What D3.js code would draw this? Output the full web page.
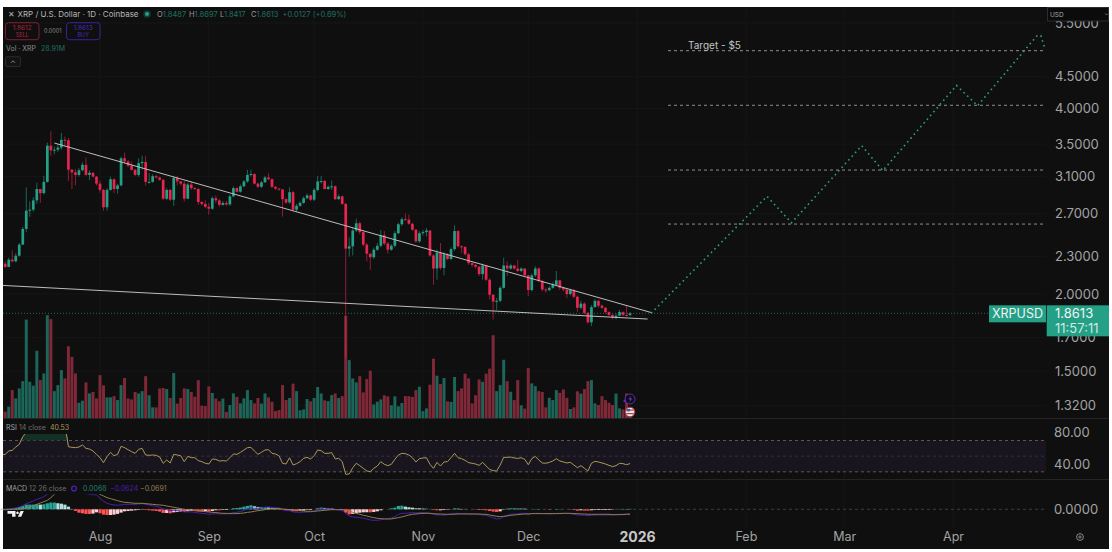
<!DOCTYPE html>
<html>
<head>
<meta charset="utf-8">
<title>XRP / U.S. Dollar</title>
<script src="https://cdn.jsdelivr.net/npm/d3@7"></script>
<style>
  html, body { margin: 0; padding: 0; background: #fff; }
  svg { display: block; }
  text { font-family: Inter, "Noto Sans", sans-serif; }
</style>
</head>
<body>
<svg id="chart" width="1112" height="552"></svg>
<script>
// Daily session data, first bar 4 Jul 2025
const firstSession = "2025-07-04";
const firstOpen = 2.25;
const closes = [
  2.240,2.213,2.274,2.260,2.308,2.405,2.550,2.730,2.740,2.837,
  2.960,2.915,3.040,3.480,3.420,3.427,3.455,3.557,3.550,3.181,
  3.150,3.120,3.175,3.240,3.120,3.145,3.100,3.020,2.950,2.765,
  2.950,3.070,2.960,3.000,3.320,3.280,3.230,3.180,3.120,3.260,
  3.275,3.040,3.040,3.105,3.090,3.064,2.855,2.950,2.844,3.085,
  3.045,3.020,2.855,3.010,2.970,2.960,2.820,2.800,2.770,2.750,
  2.860,2.837,2.790,2.810,2.795,2.880,2.970,2.930,2.990,3.045,
  3.120,3.130,3.020,2.985,3.035,3.090,3.070,2.985,2.965,2.955,
  2.850,2.815,2.925,2.740,2.780,2.810,2.860,2.890,2.844,2.950,
  3.045,3.050,2.960,2.985,2.990,2.850,2.880,2.800,2.370,2.390,
  2.535,2.605,2.520,2.405,2.325,2.295,2.360,2.395,2.490,2.415,
  2.360,2.395,2.510,2.595,2.645,2.640,2.600,2.543,2.435,2.510,
  2.520,2.535,2.310,2.200,2.335,2.205,2.320,2.280,2.365,2.530,
  2.390,2.385,2.320,2.245,2.230,2.215,2.155,2.225,2.110,1.995,
  1.945,1.950,2.047,2.225,2.200,2.225,2.200,2.180,2.200,2.145,
  2.030,2.145,2.200,2.100,2.034,2.030,2.047,2.070,2.105,2.047,
  2.034,2.000,2.030,1.980,1.900,1.930,1.865,1.800,1.905,1.950,
  1.915,1.900,1.870,1.850,1.830,1.845,1.870,1.850,1.8487,1.8613
];
const highs = [
  2.26,2.26,2.29,2.354,2.33,2.42,2.57,2.977,2.826,2.87,
  3.03,2.96,3.11,3.52,3.67,3.47,3.50,3.65,3.60,3.58,
  3.19,3.19,3.20,3.27,3.33,3.175,3.15,3.11,3.055,2.96,
  2.97,3.10,3.08,3.02,3.34,3.39,3.30,3.28,3.19,3.32,
  3.35,3.35,3.14,3.13,3.12,3.10,3.07,2.97,2.96,3.11,
  3.11,3.05,3.05,3.03,3.05,2.98,2.97,2.83,2.84,2.81,
  2.88,2.89,2.85,2.83,2.83,2.90,2.99,2.98,3.01,3.06,
  3.18,3.18,3.14,3.03,3.05,3.11,3.14,3.08,2.99,2.97,
  2.96,2.86,2.98,2.94,2.80,2.83,2.88,2.91,2.90,2.97,
  3.11,3.11,3.06,3.00,3.055,3.00,2.90,2.89,2.81,2.47,
  2.56,2.65,2.62,2.53,2.42,2.33,2.38,2.42,2.54,2.53,
  2.43,2.41,2.53,2.61,2.665,2.70,2.69,2.61,2.55,2.53,
  2.54,2.56,2.54,2.32,2.36,2.42,2.34,2.33,2.38,2.585,
  2.54,2.40,2.39,2.33,2.25,2.24,2.22,2.24,2.23,2.12,
  2.00,1.97,2.06,2.29,2.26,2.24,2.23,2.274,2.21,2.205,
  2.15,2.16,2.22,2.21,2.11,2.05,2.06,2.09,2.18,2.11,
  2.05,2.04,2.04,2.04,1.99,1.95,1.94,1.87,1.92,1.965,
  1.96,1.925,1.905,1.875,1.855,1.86,1.885,1.875,1.92,1.8697
];
const lows = [
  2.23,2.205,2.21,2.25,2.25,2.30,2.40,2.52,2.668,2.72,
  2.80,2.81,2.90,3.03,3.35,3.37,3.40,3.43,3.47,3.05,
  2.96,3.00,3.10,3.16,3.11,3.06,3.09,3.00,2.92,2.73,
  2.73,2.94,2.915,2.91,2.99,3.26,3.21,3.17,3.11,3.10,
  3.18,3.00,3.02,3.03,3.08,3.05,2.84,2.84,2.83,2.78,
  3.00,3.00,2.825,2.85,2.95,2.95,2.79,2.78,2.755,2.69,
  2.74,2.81,2.77,2.78,2.78,2.78,2.87,2.92,2.92,2.98,
  3.03,3.10,3.01,2.97,2.97,3.03,3.06,2.97,2.95,2.94,
  2.67,2.80,2.80,2.725,2.72,2.77,2.80,2.85,2.83,2.83,
  2.935,3.02,2.955,2.95,2.95,2.84,2.84,2.79,1.58,2.30,
  2.31,2.52,2.50,2.39,2.26,2.19,2.28,2.35,2.38,2.40,
  2.325,2.35,2.38,2.50,2.58,2.63,2.59,2.53,2.42,2.42,
  2.49,2.48,2.30,2.07,2.11,2.19,2.145,2.27,2.27,2.35,
  2.38,2.33,2.31,2.23,2.21,2.20,2.14,2.11,2.10,1.96,
  1.82,1.885,1.94,2.04,2.14,2.19,2.19,2.17,2.17,2.13,
  1.985,2.02,2.13,2.09,2.02,2.01,2.02,2.04,2.06,2.03,
  2.02,1.97,1.99,1.97,1.87,1.89,1.855,1.79,1.775,1.90,
  1.90,1.89,1.86,1.84,1.82,1.82,1.84,1.84,1.84,1.8417
];
// Volume in millions of XRP
const volumes = [
  59,35,59,139,99,147,182,478,179,160,
  328,187,219,499,480,134,163,235,195,350,
  299,219,78,88,176,123,130,99,211,162,
  104,104,110,91,163,197,99,94,130,123,
  134,206,114,56,56,147,149,144,101,221,
  74,101,147,144,130,107,187,64,62,157,
  125,98,85,98,34,67,123,106,75,99,
  139,91,75,101,74,123,104,83,38,43,
  163,91,101,170,134,42,46,96,85,101,
  154,123,90,86,115,123,101,110,496,283,
  195,176,206,128,192,232,70,83,94,114,
  109,66,109,61,77,110,110,106,139,155,
  38,51,165,290,208,168,197,85,82,202,
  134,147,218,195,75,114,190,179,218,242,
  403,134,163,285,182,131,91,187,66,50,
  245,171,158,134,130,56,102,91,139,126,
  142,102,48,56,133,122,144,182,187,75,
  67,110,91,78,67,122,51,46,123,28.91
];
const rsiValues = [
  52.3,52.3,56.6,57.4,61.7,65.1,74.9,81,82,84,
  86,84,87,93,90,90,90,92,91,62.1,
  61.3,60.9,61.7,64.3,60,59.1,56.6,52.3,48.1,41.7,
  49.4,54.9,50.6,52.3,62.6,60.9,58.3,55.7,53.6,58.7,
  60,51.5,51.1,51.5,51.1,48.9,40.9,45.1,41.3,52.3,
  51.5,50.6,43,49.8,48.1,48.1,44.3,43,40.9,40,
  46.4,46,43.8,44.3,43.8,48,52.8,52.3,54.9,57.9,
  60.9,61.3,56.6,52.3,54.9,57.9,58.3,53.6,52.8,50.6,
  40.9,40,48,38.7,40.4,43,47.2,48.5,46.4,50.6,
  57.9,57,53.6,53.6,54.5,46.4,47.2,43,26.8,27.2,
  35.3,40.9,37.9,34.5,31.1,30.2,34.5,37.4,43,39.6,
  37.9,39.6,46,51.5,53.6,53.2,51.5,48,42.6,46.8,
  47.7,48,39.6,34.5,42.1,37.4,42.6,43,48,53.6,
  48,46.8,44.7,41.7,40.9,40,38.3,42.1,37.4,33.2,
  31.5,31.1,38.7,48.5,48.5,48.9,47.7,47.2,48,46,
  39.1,46.8,49.8,45.1,41.3,40.9,42.1,43.8,46.8,43.8,
  42.6,41.3,42.1,38.7,35.3,37.9,34.5,31.1,40.9,43.4,
  42.6,41.3,40,38.3,36.6,37.9,40.9,40.4,39.1,40.53
];
const macdValues = [
  0,0,.005,.009,.019,.032,.051,.079,.097,.116,
  .139,.153,.176,.208,.255,.301,.329,.347,.347,.329,
  .301,.273,.245,.231,.218,.208,.204,.199,.153,.111,
  .083,.069,.060,.056,.060,.069,.069,.069,.069,.074,
  .079,.069,.060,.051,.042,.028,.005,-.005,-.019,-.014,
  -.019,-.023,-.037,-.037,-.037,-.042,-.051,-.056,-.060,-.069,
  -.065,-.060,-.065,-.065,-.065,-.056,-.046,-.042,-.032,-.014,
  .005,.019,.014,.014,.019,.028,.032,.028,.023,.019,
  -.005,-.019,-.019,-.037,-.042,-.042,-.042,-.037,-.037,-.028,
  -.009,.005,.005,.009,.009,-.005,-.009,-.019,-.056,-.093,
  -.106,-.111,-.116,-.125,-.134,-.148,-.153,-.153,-.144,-.134,
  -.134,-.120,-.102,-.069,-.056,-.056,-.051,-.046,-.051,-.046,
  -.046,-.046,-.056,-.069,-.079,-.079,-.079,-.074,-.065,-.056,
  -.056,-.060,-.060,-.065,-.065,-.069,-.074,-.079,-.083,-.102,
  -.120,-.134,-.130,-.102,-.083,-.069,-.065,-.065,-.056,-.056,
  -.065,-.060,-.056,-.056,-.060,-.060,-.065,-.060,-.056,-.056,
  -.056,-.056,-.060,-.069,-.079,-.079,-.083,-.088,-.083,-.079,
  -.079,-.079,-.079,-.079,-.079,-.074,-.069,-.069,-.065,-.0624
];
const signalValues = [
  -.005,-.005,-.005,0,0,0,.005,.014,.032,.051,
  .069,.088,.106,.125,.162,.208,.245,.269,.282,.292,
  .296,.296,.292,.287,.282,.273,.264,.241,.208,.185,
  .162,.148,.134,.120,.106,.097,.093,.088,.083,.083,
  .083,.079,.074,.069,.065,.060,.056,.046,.037,.028,
  .019,.009,0,-.009,-.014,-.019,-.023,-.028,-.032,-.037,
  -.042,-.046,-.051,-.056,-.056,-.060,-.060,-.060,-.056,-.051,
  -.042,-.037,-.028,-.019,-.014,-.005,.005,.009,.009,.009,
  .005,0,-.005,-.009,-.014,-.019,-.023,-.028,-.028,-.028,
  -.023,-.019,-.014,-.009,-.005,-.005,-.005,-.005,-.009,-.023,
  -.042,-.056,-.069,-.083,-.093,-.106,-.116,-.125,-.130,-.134,
  -.134,-.134,-.125,-.116,-.106,-.093,-.079,-.069,-.065,-.060,
  -.056,-.056,-.056,-.060,-.065,-.065,-.069,-.069,-.069,-.069,
  -.065,-.065,-.065,-.065,-.065,-.065,-.065,-.069,-.069,-.079,
  -.088,-.097,-.102,-.097,-.093,-.083,-.079,-.074,-.069,-.065,
  -.065,-.060,-.060,-.060,-.060,-.060,-.060,-.060,-.060,-.060,
  -.056,-.056,-.056,-.060,-.060,-.065,-.065,-.069,-.069,-.069,
  -.069,-.069,-.069,-.069,-.074,-.074,-.074,-.074,-.069,-.0691
];

// Axis ticks
const priceTicks = [5.5, 4.5, 4.0, 3.5, 3.1, 2.7, 2.3, 2.0, 1.7, 1.5, 1.32];
const rsiTicks = [80, 40];
const rsiBandLevels = [70, 50, 30];
const macdTicks = [0];
const monthTicks = ["2025-08-01","2025-09-01","2025-10-01","2025-11-01","2025-12-01","2026-01-01","2026-02-01","2026-03-01","2026-04-01"];

// Hand-drawn annotations
const wedgeUpper = [["2025-07-19", 3.514], ["2026-01-05", 1.867]];
const wedgeLower = [["2025-07-04", 2.066], ["2026-01-04", 1.822]];
const targetLevels = [4.96, 4.046, 3.177, 2.597];
const projectedDates = ["2026-01-05","2026-02-07","2026-02-14","2026-03-06","2026-03-12","2026-04-02","2026-04-08","2026-04-25","2026-04-26","2026-04-27"];
const projectedPrices = [1.8613, 2.88, 2.61, 3.48, 3.17, 4.356, 4.04, 5.25, 5.25, 5.04];

// Palette
const UP = "#23a086", DOWN = "#e7254f";
const VOL_UP = "#1c6558", VOL_DOWN = "#7f2838";
const BG = "#0f0f10", GRID = "#161617", SEP = "#242425", AXIS_TEXT = "#a3a3a3";

const parse = d3.utcParse("%Y-%m-%d");
const start = parse(firstSession);
const bars = closes.map((close, i) => {
  const open = i === 0 ? firstOpen : closes[i - 1];
  return {
    date: d3.utcDay.offset(start, i), open, close,
    high: highs[i], low: lows[i], volume: volumes[i],
    rsi: rsiValues[i], macd: macdValues[i], signal: signalValues[i],
    hist: macdValues[i] - signalValues[i], up: close >= open
  };
});

// Scales
const x = d3.scaleUtc().domain([parse("2025-08-01"), parse("2026-04-01")]).range([100, 953]);
const yPrice = d3.scaleLog().domain([5.5, 1.32]).range([23, 405.4]);
const yVol = d3.scaleLinear().domain([0, 500]).range([419, 315]);
const yRsi = d3.scaleLinear().domain([80, 40]).range([432.7, 464]);
const yMacd = d3.scaleLinear().domain([0, 0.1]).range([509.3, 502.1]);

const LEFT = 3, PANE_RIGHT = 1046, RIGHT = 1109, TOP = 7, BOTTOM = 549;
const svg = d3.select("#chart");
svg.append("rect").attr("x", LEFT).attr("y", TOP).attr("width", RIGHT - LEFT).attr("height", BOTTOM - TOP).attr("fill", BG);

const defs = svg.append("defs");
const clip = (id, y0, y1) => defs.append("clipPath").attr("id", id).append("rect")
  .attr("x", LEFT).attr("y", y0).attr("width", PANE_RIGHT - LEFT).attr("height", y1 - y0);
clip("clip-main", TOP, 418);
clip("clip-rsi", 434, 479);
clip("clip-macd", 494.3, 528);

// Grid
const grid = svg.append("g");
grid.selectAll(".v").data(monthTicks).join("line")
  .attr("x1", d => x(parse(d))).attr("x2", d => x(parse(d)))
  .attr("y1", TOP).attr("y2", 528).attr("stroke", GRID);
grid.selectAll(".h").data(priceTicks).join("line")
  .attr("x1", LEFT).attr("x2", PANE_RIGHT)
  .attr("y1", d => yPrice(d)).attr("y2", d => yPrice(d)).attr("stroke", GRID);

// Pane separators
svg.selectAll(".sep").data([418.5, 479.5]).join("line")
  .attr("x1", LEFT).attr("x2", RIGHT).attr("y1", d => d).attr("y2", d => d).attr("stroke", SEP);

// Volume
const main = svg.append("g").attr("clip-path", "url(#clip-main)");
main.append("g").selectAll("rect").data(bars).join("rect")
  .attr("x", d => x(d.date) - 1.5).attr("width", 3)
  .attr("y", d => yVol(d.volume)).attr("height", d => yVol(0) - yVol(d.volume))
  .attr("fill", d => d.up ? VOL_UP : VOL_DOWN);

// Current price line
main.append("line")
  .attr("x1", LEFT).attr("x2", PANE_RIGHT)
  .attr("y1", yPrice(closes[closes.length - 1])).attr("y2", yPrice(closes[closes.length - 1]))
  .attr("stroke", "#1f6b5d").attr("stroke-dasharray", "1 2");

// Candles
main.append("g").selectAll("line").data(bars).join("line")
  .attr("x1", d => x(d.date)).attr("x2", d => x(d.date))
  .attr("y1", d => yPrice(d.high)).attr("y2", d => yPrice(d.low))
  .attr("stroke", d => d.up ? UP : DOWN).attr("stroke-opacity", 0.6);
main.append("g").selectAll("rect").data(bars).join("rect")
  .attr("x", d => x(d.date) - 1.35).attr("width", 2.7)
  .attr("y", d => yPrice(Math.max(d.open, d.close)))
  .attr("height", d => Math.max(1, Math.abs(yPrice(d.open) - yPrice(d.close))))
  .attr("fill", d => d.up ? UP : DOWN);

// Wedge trend lines
const trend = d3.line().x(d => x(parse(d[0]))).y(d => yPrice(d[1]));
main.selectAll(".wedge").data([wedgeUpper, wedgeLower]).join("path")
  .attr("d", trend).attr("fill", "none").attr("stroke", "#bdbdbd").attr("stroke-width", 1);

// Target levels
main.selectAll(".level").data(targetLevels).join("line")
  .attr("x1", 668).attr("x2", 1044)
  .attr("y1", d => yPrice(d)).attr("y2", d => yPrice(d))
  .attr("stroke", "#8f8f8f").attr("stroke-dasharray", "3 3");
main.append("text").attr("x", 688).attr("y", yPrice(targetLevels[0]) - 1.5)
  .attr("font-size", 10).attr("fill", "#c4c4c4").text("Target - $5");

// Projected path
const projected = projectedDates.map((d, i) => ({ date: parse(d), price: projectedPrices[i] }));
main.append("path").datum(projected)
  .attr("d", d3.line().x(d => x(d.date)).y(d => yPrice(d.price)))
  .attr("fill", "none").attr("stroke", "#2f9c7e").attr("stroke-width", 1.6)
  .attr("stroke-dasharray", "1.6 3.4");

// RSI pane
const rsiPane = svg.append("g");
rsiPane.append("rect").attr("x", LEFT).attr("width", PANE_RIGHT - LEFT)
  .attr("y", yRsi(70)).attr("height", yRsi(30) - yRsi(70)).attr("fill", "#19151f");
rsiPane.selectAll(".band").data(rsiBandLevels).join("line")
  .attr("x1", LEFT).attr("x2", PANE_RIGHT).attr("y1", d => yRsi(d)).attr("y2", d => yRsi(d))
  .attr("stroke", d => d === 50 ? "#35323b" : "#5a5a5c").attr("stroke-dasharray", "3 3");
const rsiClipped = rsiPane.append("g").attr("clip-path", "url(#clip-rsi)");
rsiClipped.append("path").datum(bars)
  .attr("d", d3.area().x(d => x(d.date)).y0(yRsi(70)).y1(d => yRsi(Math.max(d.rsi, 70))))
  .attr("fill", "#133024");
rsiClipped.append("path").datum(bars)
  .attr("d", d3.line().x(d => x(d.date)).y(d => yRsi(d.rsi)))
  .attr("fill", "none").attr("stroke", "#a89a55").attr("stroke-width", 1);

// MACD pane
const macdPane = svg.append("g");
macdPane.selectAll(".zero").data(macdTicks).join("line")
  .attr("x1", LEFT).attr("x2", PANE_RIGHT).attr("y1", d => yMacd(d)).attr("y2", d => yMacd(d))
  .attr("stroke", "#3c3c3e").attr("stroke-dasharray", "3 3");
const histColor = (d, i) => {
  const prev = i ? bars[i - 1].hist : 0;
  if (d.hist >= 0) return d.hist >= prev ? "#26a69a" : "#b2dfdb";
  return d.hist < prev ? "#ff5252" : "#ffcdd2";
};
macdPane.append("g").selectAll("rect").data(bars).join("rect")
  .attr("x", d => x(d.date) - 1.6).attr("width", 3.2)
  .attr("y", d => Math.min(yMacd(d.hist), yMacd(0)))
  .attr("height", d => Math.abs(yMacd(d.hist) - yMacd(0)))
  .attr("fill", histColor);
const macdClipped = macdPane.append("g").attr("clip-path", "url(#clip-macd)");
macdClipped.append("path").datum(bars)
  .attr("d", d3.line().x(d => x(d.date)).y(d => yMacd(d.macd)))
  .attr("fill", "none").attr("stroke", "#4a1fb0").attr("stroke-width", 1);
macdClipped.append("path").datum(bars)
  .attr("d", d3.line().x(d => x(d.date)).y(d => yMacd(d.signal)))
  .attr("fill", "none").attr("stroke", "#8f7f4e").attr("stroke-width", 1);

// Axes
function styleAxis(g, size) {
  g.attr("font-family", "Inter, sans-serif").attr("font-size", size);
  g.select(".domain").remove();
  g.selectAll("text").attr("fill", AXIS_TEXT);
}
svg.append("g").attr("transform", `translate(${PANE_RIGHT},0)`)
  .call(d3.axisRight(yPrice).tickValues(priceTicks).tickFormat(d3.format(".4f")).tickSize(0).tickPadding(9))
  .call(styleAxis, 13);
svg.append("g").attr("transform", `translate(${PANE_RIGHT},0)`)
  .call(d3.axisRight(yRsi).tickValues(rsiTicks).tickFormat(d3.format(".2f")).tickSize(0).tickPadding(8))
  .call(styleAxis, 13);
svg.append("g").attr("transform", `translate(${PANE_RIGHT},0)`)
  .call(d3.axisRight(yMacd).tickValues(macdTicks).tickFormat(d3.format(".4f")).tickSize(0).tickPadding(8))
  .call(styleAxis, 13);
const timeFormat = d => d.getUTCMonth() === 0 ? String(d.getUTCFullYear()) : d3.utcFormat("%b")(d);
svg.append("g").attr("transform", "translate(0,524)")
  .call(d3.axisBottom(x).tickValues(monthTicks.map(parse)).tickFormat(timeFormat).tickSize(0).tickPadding(8))
  .call(styleAxis, 12.5)
  .call(g => g.selectAll(".tick").filter(d => d.getUTCMonth() === 0).select("text")
    .attr("font-weight", 700).attr("font-size", 14).attr("fill", "#c8c8c8"));

// Settings glyph under the price axis
const gear = svg.append("g").attr("transform", "translate(1080,537)").attr("fill", "none").attr("stroke", "#8a8a8a");
gear.append("circle").attr("r", 3.4);
gear.append("circle").attr("r", 1.1);

// Currency selector
svg.append("rect").attr("x", 1047.5).attr("y", 7.5).attr("width", 61).attr("height", 13.5)
  .attr("fill", "#0b0b0c").attr("stroke", "#2c2c2e");
svg.append("text").attr("x", 1050).attr("y", 17).attr("font-size", 6.5).attr("fill", "#a8a8a8").text("USD");
svg.append("path").attr("d", "M1105 13.5l1.5 1.5l1.5-1.5").attr("fill", "none").attr("stroke", "#8a8a8a").attr("stroke-width", 0.7);

// Symbol and last-price tags
const last = closes[closes.length - 1];
const tagY = yPrice(last);
svg.append("rect").attr("x", 989).attr("y", tagY - 8).attr("width", 57).attr("height", 17).attr("fill", UP);
svg.append("text").attr("x", 1017.5).attr("y", tagY + 4.6).attr("text-anchor", "middle")
  .attr("font-size", 12.5).attr("fill", "#f2f2f2").text("XRPUSD");
svg.append("rect").attr("x", 1046.7).attr("y", tagY - 8).attr("width", RIGHT - 1046.7).attr("height", 31).attr("fill", UP);
svg.append("text").attr("x", 1055).attr("y", tagY + 4.8).attr("font-size", 13).attr("fill", "#f2f2f2").text(last.toFixed(4));
svg.append("text").attr("x", 1055).attr("y", tagY + 20).attr("font-size", 13).attr("fill", "#cfe9e2").text("11:57:11");

// Header line
const header = svg.append("g").attr("font-size", 8);
header.append("text").attr("x", 7.5).attr("y", 17).attr("font-size", 8).attr("fill", "#b5b5b5").text("✕");
header.append("text").attr("x", 17.5).attr("y", 17).attr("fill", "#b5b5b5").text("XRP / U.S. Dollar · 1D · Coinbase");
header.append("circle").attr("cx", 147).attr("cy", 14).attr("r", 3.8).attr("fill", "#123a31");
header.append("circle").attr("cx", 147).attr("cy", 14).attr("r", 2).attr("fill", UP);
const lastBar = bars[bars.length - 1];
const quotes = [
  ["O", lastBar.open, 157], ["H", lastBar.high, 189], ["L", lastBar.low, 220], ["C", lastBar.close, 251]
];
quotes.forEach(([k, v, px]) => {
  const t = header.append("text").attr("x", px).attr("y", 17).attr("font-size", 7.5);
  t.append("tspan").attr("fill", "#9a9a9a").text(k);
  t.append("tspan").attr("fill", "#1f6f60").text(v.toFixed(4));
});
header.append("text").attr("x", 282.5).attr("y", 17).attr("font-size", 7.5).attr("fill", "#1f6f60").text("+0.0127 (+0.69%)");

// Sell / buy buttons
const ticket = svg.append("g").attr("text-anchor", "middle");
[
  { x: 5.5, price: "1.8612", label: "SELL", stroke: "#7c2030", fill: "#a8263a" },
  { x: 66.5, price: "1.8613", label: "BUY", stroke: "#3d219a", fill: "#4b2cb5" }
].forEach(b => {
  ticket.append("rect").attr("x", b.x).attr("y", 22.7).attr("width", 33.5).attr("height", 17)
    .attr("rx", 3).attr("fill", "none").attr("stroke", b.stroke);
  ticket.append("text").attr("x", b.x + 16.7).attr("y", 29.8).attr("font-size", 6.5).attr("fill", b.fill).text(b.price);
  ticket.append("text").attr("x", b.x + 16.7).attr("y", 37).attr("font-size", 5.5).attr("fill", b.fill).text(b.label);
});
ticket.append("text").attr("x", 52.8).attr("y", 33).attr("font-size", 5.5).attr("fill", "#8a8a8a").text("0.0001");

// Volume legend and collapse button
const volLegend = svg.append("text").attr("x", 6).attr("y", 51).attr("font-size", 7);
volLegend.append("tspan").attr("fill", "#8c8c8c").text("Vol · XRP ");
volLegend.append("tspan").attr("dx", 3).attr("fill", "#1f6f60").text(d3.format(".2f")(lastBar.volume) + "M");
svg.append("rect").attr("x", 5.5).attr("y", 56.7).attr("width", 15).attr("height", 9.8).attr("rx", 1.5)
  .attr("fill", "#141415").attr("stroke", "#2a2a2c");
svg.append("path").attr("d", "M11 62.8l2-2l2 2").attr("fill", "none").attr("stroke", "#a0a0a0").attr("stroke-width", 0.8);

// RSI legend
const rsiLegend = svg.append("text").attr("x", 6).attr("y", 430.3).attr("font-size", 7);
rsiLegend.append("tspan").attr("fill", "#a0a0a0").text("RSI");
rsiLegend.append("tspan").attr("dx", 2).attr("fill", "#6f6f6f").text("14 close");
rsiLegend.append("tspan").attr("dx", 4).attr("fill", "#a89a55").text(lastBar.rsi.toFixed(2));

// MACD legend
const macdLegend = svg.append("text").attr("x", 6).attr("y", 490.8).attr("font-size", 7);
macdLegend.append("tspan").attr("fill", "#a0a0a0").text("MACD");
macdLegend.append("tspan").attr("dx", 2).attr("fill", "#6f6f6f").text("12 26 close");
svg.append("circle").attr("cx", 74).attr("cy", 488.5).attr("r", 2.4).attr("fill", "none").attr("stroke", "#4a1fb0").attr("stroke-width", 1.4);
const fmtSigned = d3.format(".4f");
svg.append("text").attr("x", 83).attr("y", 490.8).attr("font-size", 7).attr("fill", "#1f7f6e").text("0.0068");
svg.append("text").attr("x", 110).attr("y", 490.8).attr("font-size", 7).attr("fill", "#4a1fb0").text(fmtSigned(lastBar.macd).replace("-", "−"));
svg.append("text").attr("x", 140).attr("y", 490.8).attr("font-size", 7).attr("fill", "#8f7f4e").text(fmtSigned(lastBar.signal).replace("-", "−"));

// Broker logotype in the lower-left corner
svg.append("path").attr("d", "M7.5 511h8v5.7h-3.4v-3h-4.6z M17.5 511.5a1.3 1.3 0 1 0 .01 0z M20.5 511h3.3l-2.6 5.7h-3.3z").attr("fill", "#f0f0f0");

// Event badges at the end of the volume pane
const badges = svg.append("g");
badges.append("circle").attr("cx", 630).attr("cy", 399).attr("r", 5).attr("fill", BG).attr("stroke", "#5a2bc0").attr("stroke-width", 1);
badges.append("path").attr("d", "M631 395.8l-2.5 3.8h1.8l-.8 2.8l2.6-3.9h-1.8z").attr("fill", "#6a3bd0");
badges.append("path").attr("d", "M623 401l1.6-1.6l1.6 1.6l-1.6 1.6z").attr("fill", "#5a2bc0");
badges.append("circle").attr("cx", 630).attr("cy", 412).attr("r", 4.8).attr("fill", "#e8e8e8").attr("stroke", "#b22a3a").attr("stroke-width", 1);
badges.append("rect").attr("x", 626.2).attr("y", 409.5).attr("width", 7.6).attr("height", 1.2).attr("fill", "#c0392f");
badges.append("rect").attr("x", 626.2).attr("y", 413).attr("width", 7.6).attr("height", 1.2).attr("fill", "#c0392f");
badges.append("rect").attr("x", 626.6).attr("y", 408.8).attr("width", 3.4).attr("height", 2.6).attr("fill", "#3b5ea8");
</script>
</body>
</html>
